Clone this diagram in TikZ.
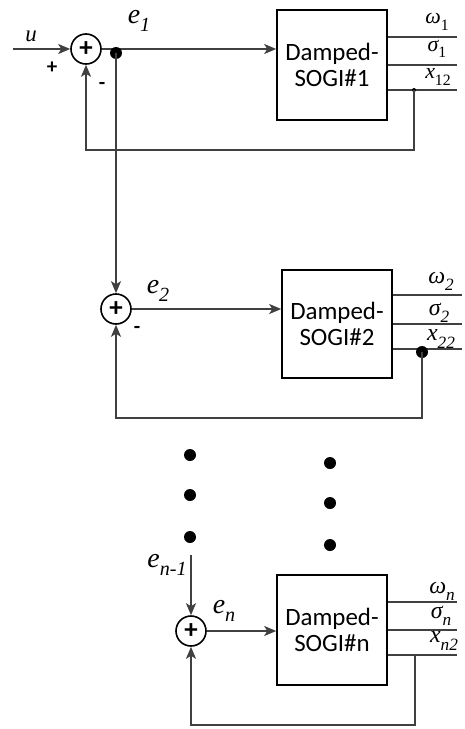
\documentclass[tikz,border=0pt]{standalone}
\usepackage{fontspec}
\usepackage{graphicx}
\setmainfont{Liberation Serif}
\newfontfamily\boxfont{Carlito}
\usetikzlibrary{arrows.meta}
\definecolor{ln}{HTML}{404040}
\newcommand{\sbx}[1]{\raisebox{-0.3em}{\scalebox{0.72}{#1}}}
\begin{document}
\begin{tikzpicture}[x=1bp,y=-1bp,
  wire/.style={draw=ln, line width=1.6bp},
  arr/.style={wire, -{Stealth[length=12bp,width=10bp,inset=3bp]}},
  sumnode/.style={circle, draw=black, line width=1.6bp, minimum size=30bp, inner sep=0pt, font=\boxfont\bfseries\fontsize{27}{27}\selectfont},
  blk/.style={rectangle, draw=black, line width=1.6bp, minimum width=110bp, minimum height=110bp, inner sep=0pt, align=center, font=\boxfont\fontsize{25}{26}\selectfont},
  lbl/.style={inner sep=0pt, font=\fontsize{28}{28}\selectfont\itshape},
  olbl/.style={inner sep=0pt, font=\fontsize{24}{24}\selectfont\itshape},
  olbls/.style={inner sep=0pt, font=\fontsize{22}{22}\selectfont\itshape},
  sgn/.style={inner sep=0pt, font=\boxfont\bfseries\fontsize{21}{21}\selectfont},
  bigdot/.style={circle, fill=black, minimum size=12bp, inner sep=0pt},
  smalldot/.style={circle, fill=black, minimum size=4bp, inner sep=0pt}
]
\useasboundingbox (0,0) rectangle (465,729);

% ---------- stage 1 ----------
\node[sumnode] (s1) at (86,49) {+};
\node[blk] (b1) at (332,65) {Damped-\\SOGI\#1};
\coordinate (uin) at (13,49);
\draw[arr] (uin) -- (s1.west);
\draw[arr] (s1.east) -- (s1.east -| b1.west);
\coordinate (o1a) at (457,37);
\coordinate (o1b) at (457,65);
\coordinate (o1c) at (457,90);
\draw[wire] (b1.east |- o1a) -- (o1a);
\draw[wire] (b1.east |- o1b) -- (o1b);
\draw[wire] (b1.east |- o1c) -- (o1c);
\node[smalldot] (f1) at (414,90) {};
\coordinate (f1b) at (414,150);
\draw[arr] (f1.center) -- (f1b) -| (s1.south);
\node[lbl, font=\fontsize{23}{23}\selectfont\itshape] (ul) at (31,36) {u};
\node[sgn] (p1) at (52,68) {+};
\node[sgn] (m1) at (102,86) {-};
\node[lbl] (e1l) at (139,21) {e\sbx{1}};
\node[olbls] (w1l) at (437,22) {ω\sbx{\upshape 1}};
\node[olbls] (g1l) at (437,49) {σ\sbx{\upshape 1}};
\node[olbls] (x1l) at (438,77) {x\sbx{\upshape 12}};

% ---------- stage 2 ----------
\node[sumnode] (s2) at (116,309) {+};
\node[bigdot] (j1) at (116,53) {};
\draw[arr] (j1.center) -- (s2.north);
\node[blk, minimum height=108bp] (b2) at (337,324) {Damped-\\SOGI\#2};
\draw[arr] (s2.east) -- (s2.east -| b2.west);
\coordinate (o2a) at (462,295);
\coordinate (o2b) at (462,324);
\coordinate (o2c) at (462,349);
\draw[wire] (b2.east |- o2a) -- (o2a);
\draw[wire] (b2.east |- o2b) -- (o2b);
\draw[wire] (b2.east |- o2c) -- (o2c);
\node[bigdot] (j2) at (422,352) {};
\coordinate (f2b) at (422,418);
\draw[arr] (j2.center) -- (f2b) -| (s2.south);
\node[lbl] (e2l) at (158,291) {e\sbx{2}};
\node[sgn] (m2) at (137,330) {-};
\node[olbl] (w2l) at (441,281) {ω\sbx{2}};
\node[olbl] (g2l) at (439,313) {σ\sbx{2}};
\node[olbl] (x2l) at (441,339) {x\sbx{22}};

% ---------- ellipsis dots ----------
\node[bigdot] (d1) at (190,455) {};
\node[bigdot] (d2) at (190,495) {};
\node[bigdot] (d3) at (190,537) {};
\node[bigdot] (d4) at (330,463) {};
\node[bigdot] (d5) at (330,503) {};
\node[bigdot] (d6) at (330,545) {};

% ---------- stage n ----------
\node[sumnode] (sn) at (191,631) {+};
\coordinate (en1) at (191,555);
\draw[arr] (en1) -- (sn.north);
\node[blk] (bn) at (332,630) {Damped-\\SOGI\#n};
\draw[arr] (sn.east) -- (sn.east -| bn.west);
\coordinate (ona) at (457,602);
\coordinate (onb) at (457,630);
\coordinate (onc) at (457,655);
\draw[wire] (bn.east |- ona) -- (ona);
\draw[wire] (bn.east |- onb) -- (onb);
\draw[wire] (bn.east |- onc) -- (onc);
\coordinate (fn) at (415,655);
\coordinate (fnb) at (415,725);
\draw[arr] (fn) -- (fnb) -| (sn.south);
\node[lbl] (enml) at (167,565) {e\sbx{n-1}};
\node[lbl] (enl) at (224,611) {e\sbx{n}};
\node[olbl] (wnl) at (442,591) {ω\sbx{n}};
\node[olbl] (gnl) at (441,616) {σ\sbx{n}};
\node[olbl] (xnl) at (444,641) {x\sbx{n2}};
\end{tikzpicture}
\end{document}
